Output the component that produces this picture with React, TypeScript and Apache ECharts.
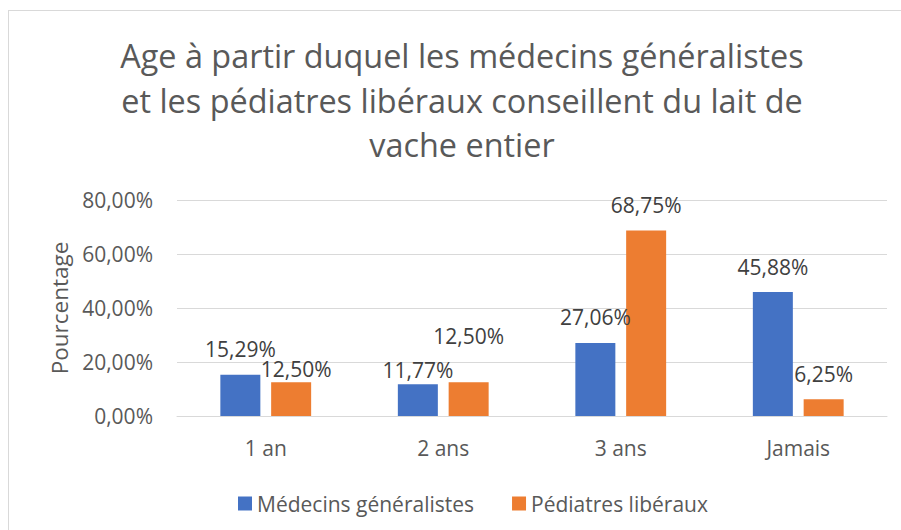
import React, { useEffect, useRef } from "react";
import * as echarts from "echarts";

const categories = ["1 an", "2 ans", "3 ans", "Jamais"];
const seriesNames = ["Médecins généralistes", "Pédiatres libéraux"];
const medecins = [15.29, 11.77, 27.06, 45.88];
const pediatres = [12.5, 12.5, 68.75, 6.25];
const yTicks = [0, 20, 40, 60, 80];
const titleText =
  "Age à partir duquel les médecins généralistes\net les pédiatres libéraux conseillent du lait de\nvache entier";

const FONT = "Open Sans";
const TEXT = "#595959";

const fmt = (v: number) => v.toFixed(2).replace(".", ",") + "%";

export default function App() {
  const ref = useRef<HTMLDivElement>(null);
  useEffect(() => {
    if (!ref.current) return;
    const chart = echarts.init(ref.current, null, { renderer: "svg" });
    const labelBase = {
      show: true,
      position: "top",
      distance: 15,
      fontFamily: FONT,
      fontSize: 21,
      color: "#404040",
      formatter: (p: any) => fmt(p.value),
    };
    const medOffsets: Record<number, number[]> = { 1: [0, 11] };
    const pedOffsets: Record<number, number[]> = { 0: [5, 12], 1: [0, -21] };
    chart.setOption({
      animation: false,
      backgroundColor: "#ffffff",
      legend: {
        bottom: 11,
        left: 233,
        itemWidth: 14,
        itemHeight: 14,
        itemGap: 38,
        icon: "rect",
        textStyle: { fontFamily: FONT, fontSize: 21, color: TEXT },
        data: seriesNames,
      },
      grid: { left: 177, right: 14, top: 200, bottom: 114 },
      xAxis: {
        type: "category",
        data: categories,
        axisLine: { lineStyle: { color: "#d9d9d9" } },
        axisTick: { show: false },
        axisLabel: {
          fontFamily: FONT,
          fontSize: 21,
          color: TEXT,
          margin: 21,
        },
      },
      yAxis: {
        type: "value",
        min: yTicks[0],
        max: yTicks[yTicks.length - 1],
        interval: 20,
        name: "Pourcentage",
        nameLocation: "middle",
        nameRotate: 90,
        nameGap: 102,
        nameTextStyle: { fontFamily: FONT, fontSize: 22.5, color: TEXT },
        axisLine: { show: false },
        axisTick: { show: false },
        splitLine: { lineStyle: { color: "#d9d9d9" } },
        axisLabel: {
          fontFamily: FONT,
          fontSize: 21,
          color: TEXT,
          margin: 24,
          formatter: (v: number) => fmt(v),
        },
      },
      graphic: [
        {
          type: "line",
          shape: { x1: 8, y1: 10.5, x2: 901, y2: 10.5 },
          style: { stroke: "#d9d9d9", lineWidth: 1 },
        },
        {
          type: "line",
          shape: { x1: 8.5, y1: 10, x2: 8.5, y2: 530 },
          style: { stroke: "#d9d9d9", lineWidth: 1 },
        },
        {
          type: "text",
          x: 462,
          y: 33,
          style: {
            text: titleText,
            textAlign: "center",
            fontFamily: FONT,
            fontSize: 32.4,
            lineHeight: 44.5,
            fill: TEXT,
          },
        },
      ],
      series: [
        {
          name: seriesNames[0],
          type: "bar",
          barWidth: 40,
          barGap: "27%",
          itemStyle: { color: "#4472C4" },
          data: medecins.map((v, i) => ({
            value: v,
            label: { ...labelBase, offset: medOffsets[i] || [0, 0] },
          })),
        },
        {
          name: seriesNames[1],
          type: "bar",
          barWidth: 40,
          barGap: "27%",
          itemStyle: { color: "#ED7D31" },
          data: pediatres.map((v, i) => ({
            value: v,
            label: { ...labelBase, offset: pedOffsets[i] || [0, 0] },
          })),
        },
      ],
    });
    return () => chart.dispose();
  }, []);
  return <div ref={ref} style={{ width: 901, height: 530, position: "absolute", left: 0, top: 0 }} />;
}
